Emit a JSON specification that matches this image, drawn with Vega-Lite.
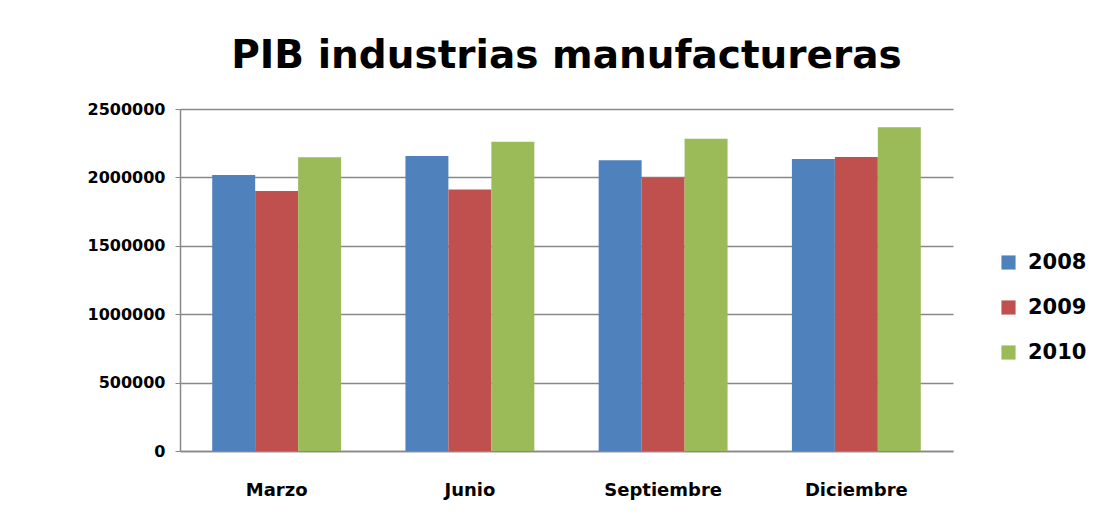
{
  "$schema": "https://vega.github.io/schema/vega-lite/v6.json",
  "autosize": "none",
  "width": 773,
  "height": 342,
  "padding": {"left": 180, "top": 109, "right": 160, "bottom": 74},
  "background": "white",
  "title": {
    "text": "PIB industrias manufactureras",
    "anchor": "middle",
    "font": "DejaVu Sans",
    "fontSize": 39,
    "fontWeight": "bold",
    "color": "#000000",
    "offset": 25
  },
  "data": {
    "values": [
      {"mes": "Marzo", "anio": "2008", "valor": 2017000},
      {"mes": "Marzo", "anio": "2009", "valor": 1900000},
      {"mes": "Marzo", "anio": "2010", "valor": 2147000},
      {"mes": "Junio", "anio": "2008", "valor": 2156000},
      {"mes": "Junio", "anio": "2009", "valor": 1912000},
      {"mes": "Junio", "anio": "2010", "valor": 2261000},
      {"mes": "Septiembre", "anio": "2008", "valor": 2125000},
      {"mes": "Septiembre", "anio": "2009", "valor": 2000000},
      {"mes": "Septiembre", "anio": "2010", "valor": 2283000},
      {"mes": "Diciembre", "anio": "2008", "valor": 2134000},
      {"mes": "Diciembre", "anio": "2009", "valor": 2149000},
      {"mes": "Diciembre", "anio": "2010", "valor": 2366000}
    ]
  },
  "mark": {"type": "bar"},
  "encoding": {
    "x": {
      "field": "mes",
      "type": "nominal",
      "sort": ["Marzo", "Junio", "Septiembre", "Diciembre"],
      "scale": {"paddingInner": 0.333, "paddingOuter": 0.1667},
      "axis": {
        "title": null,
        "labelAngle": 0,
        "labelFont": "DejaVu Sans",
        "labelFontWeight": "bold",
        "labelFontSize": 18,
        "labelColor": "#000000",
        "labelPadding": 30,
        "ticks": false,
        "domainColor": "#888888",
        "domainWidth": 1.5,
        "grid": false
      }
    },
    "xOffset": {"field": "anio", "type": "nominal"},
    "y": {
      "field": "valor",
      "type": "quantitative",
      "scale": {"domain": [0, 2500000], "nice": false},
      "axis": {
        "title": null,
        "values": [0, 500000, 1000000, 1500000, 2000000, 2500000],
        "format": "d",
        "labelFont": "DejaVu Sans",
        "labelFontWeight": "bold",
        "labelFontSize": 16,
        "labelColor": "#000000",
        "labelPadding": 10,
        "tickColor": "#888888",
        "tickSize": 5,
        "domainColor": "#888888",
        "domainWidth": 1.5,
        "grid": true,
        "gridColor": "#888888",
        "gridWidth": 1.5
      }
    },
    "color": {
      "field": "anio",
      "type": "nominal",
      "scale": {"domain": ["2008", "2009", "2010"], "range": ["#4F81BD", "#C0504D", "#9BBB59"]},
      "legend": {
        "title": null,
        "orient": "none",
        "legendX": 818,
        "legendY": 143,
        "symbolType": "square",
        "symbolSize": 200,
        "symbolStrokeWidth": 0,
        "labelFont": "DejaVu Sans",
        "labelFontWeight": "bold",
        "labelFontSize": 21,
        "labelColor": "#000000",
        "rowPadding": 23,
        "labelOffset": 9
      }
    }
  },
  "config": {"view": {"stroke": null}}
}
